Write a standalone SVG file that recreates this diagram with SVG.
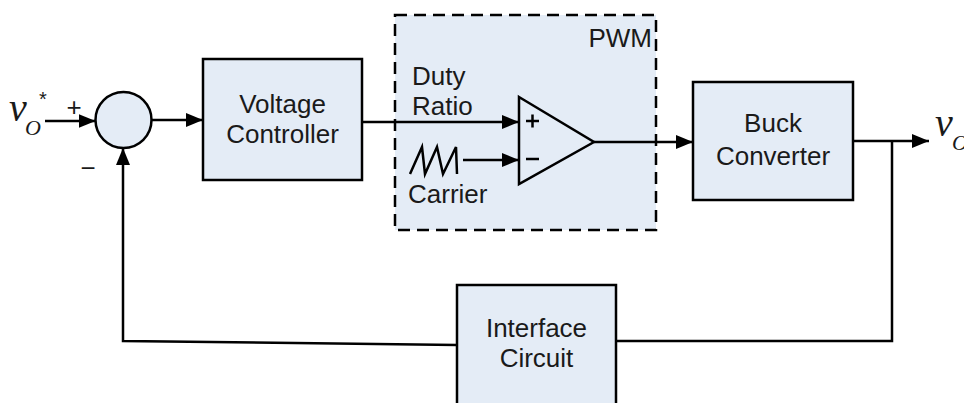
<svg xmlns="http://www.w3.org/2000/svg" width="964" height="403" viewBox="0 0 964 403">
<defs>
<style>
.box{fill:#E4ECF6;stroke:#000;stroke-width:2.5}
.ln{fill:none;stroke:#000;stroke-width:2.5}
.lbl{font-family:"Liberation Sans",Arial,sans-serif;font-size:26px;fill:#1a1a1a}
.mid{text-anchor:middle}
.var{font-family:"Liberation Serif","Times New Roman",serif;font-style:italic;fill:#1a1a1a}
</style>
<marker id="ah" markerUnits="userSpaceOnUse" markerWidth="18" markerHeight="14" refX="17" refY="7" orient="auto">
<path d="M0,0 L17,7 L0,14 Z" fill="#000"/>
</marker>
</defs>
<rect width="964" height="403" fill="#fff"/>

<g id="pwm">
<rect x="395" y="15" width="261" height="215" fill="#E4ECF6" stroke="#000" stroke-width="2.5" stroke-dasharray="12,7"/>
<text class="lbl" x="652" y="47" text-anchor="end">PWM</text>
<text class="lbl" x="412" y="85">Duty</text>
<text class="lbl" x="412" y="115">Ratio</text>
<text class="lbl" x="408" y="203">Carrier</text>
<path class="ln" d="M410,174 L422,147 L425,174 L437,147 L443,174 L456,147 L457,174" stroke-width="2.2"/>
</g>

<g id="comparator">
<path d="M519,97 L594,142 L519,184 Z" fill="#E4ECF6" stroke="#000" stroke-width="2.5"/>
<path class="ln" d="M526,121 H539 M532.5,114.5 V127.5" stroke-width="2.2"/>
<path class="ln" d="M526,159 H539" stroke-width="2.2"/>
</g>

<g id="sum">
<circle cx="123.5" cy="120" r="28" class="box"/>
</g>

<g id="voltage-controller">
<rect class="box" x="203" y="59" width="159" height="121"/>
<text class="lbl mid" x="282.5" y="113">Voltage</text>
<text class="lbl mid" x="282.5" y="143">Controller</text>
</g>

<g id="buck-converter">
<rect class="box" x="693" y="82" width="160" height="118"/>
<text class="lbl mid" x="773" y="132">Buck</text>
<text class="lbl mid" x="773" y="165">Converter</text>
</g>

<g id="interface-circuit">
<rect class="box" x="457" y="285" width="159" height="130"/>
<text class="lbl mid" x="536.5" y="337">Interface</text>
<text class="lbl mid" x="536.5" y="367">Circuit</text>
</g>

<g id="connectors">
<line class="ln" x1="45" y1="121" x2="95.5" y2="121" marker-end="url(#ah)"/>
<line class="ln" x1="151.5" y1="120" x2="203" y2="120" marker-end="url(#ah)"/>
<line class="ln" x1="362" y1="122" x2="519" y2="122" marker-end="url(#ah)"/>
<line class="ln" x1="463" y1="160" x2="519" y2="160" marker-end="url(#ah)"/>
<line class="ln" x1="594" y1="142" x2="693" y2="142" marker-end="url(#ah)"/>
<line class="ln" x1="853" y1="141" x2="929" y2="141" marker-end="url(#ah)"/>
<polyline class="ln" points="892,141 892,341 616,341"/>
<polyline class="ln" points="457,345 123,341 123,148" marker-end="url(#ah)"/>
</g>

<g id="signals">
<text class="var" x="9" y="121" font-size="40">v</text>
<text class="var" x="25" y="135" font-size="22">O</text>
<text x="39" y="106" font-family="Liberation Sans,Arial,sans-serif" font-size="20" fill="#1a1a1a">*</text>
<text class="lbl" x="74" y="116" text-anchor="middle">+</text>
<text class="lbl" x="88" y="177" text-anchor="middle">−</text>
<text class="var" x="935" y="136" font-size="40">v</text>
<text class="var" x="952" y="150" font-size="22">O</text>
</g>
</svg>
